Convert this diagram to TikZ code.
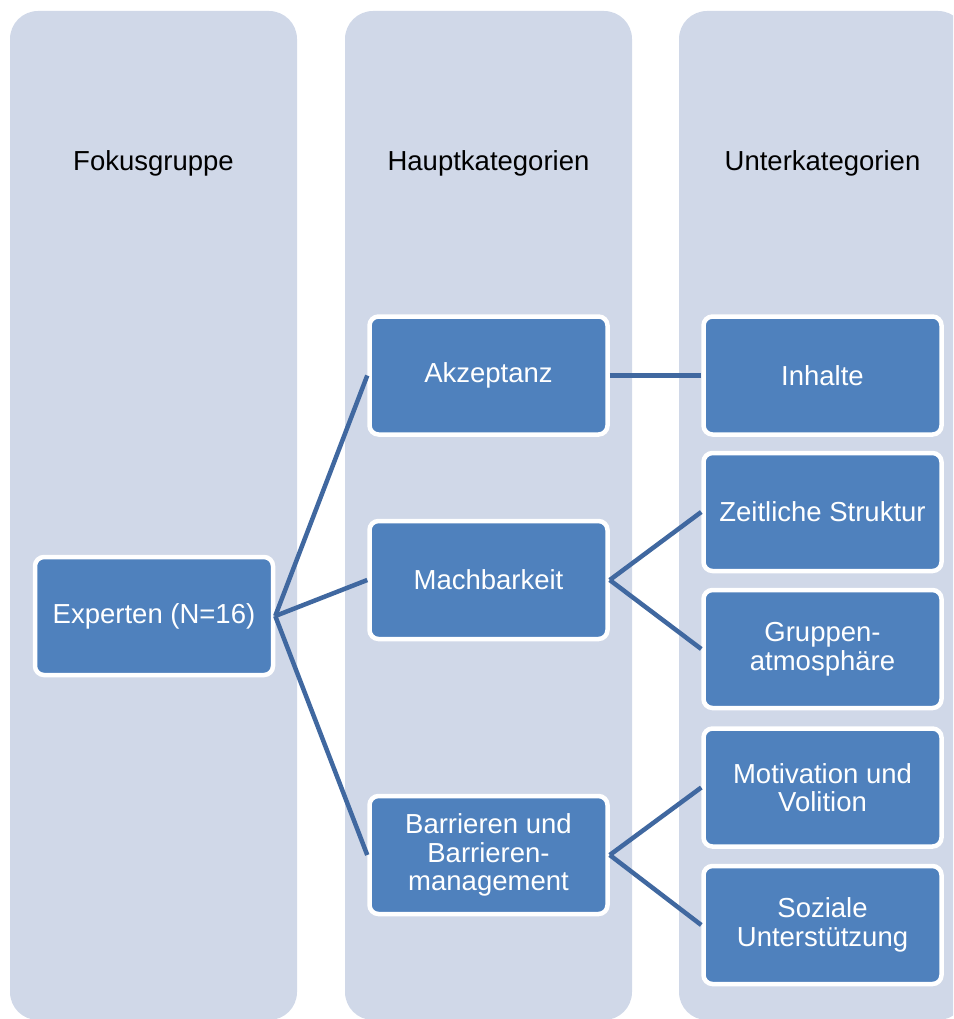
\documentclass[tikz,border=0pt]{standalone}
\usepackage{fontspec}
\setmainfont{Liberation Sans}
\definecolor{colfill}{RGB}{208,216,232}
\definecolor{boxblue}{RGB}{79,129,189}
\definecolor{linkblue}{RGB}{64,104,160}
\begin{document}
\begin{tikzpicture}[x=1pt,y=-1pt,
  column/.style={fill=colfill,rounded corners=28pt},
  header/.style={font=\fontsize{27.5}{29}\selectfont,text=black},
  catbox/.style={rectangle,rounded corners=9pt,fill=boxblue,draw=white,
    line width=4.5pt,minimum width=238pt,minimum height=118pt,inner sep=0pt,
    text=white,align=center,font=\fontsize{27.5}{28.5}\selectfont},
  link/.style={draw=linkblue,line width=4.5pt}]
\useasboundingbox (0,0) rectangle (953,1019);
\clip (0,0) rectangle (953,1019);
% background columns
\fill[column] (10,11) rectangle (297,1020);
\fill[column] (345,11) rectangle (632,1020);
\fill[column] (679,11) rectangle (966,1020);
% column headings
\node[header] (h1) at (153.5,163) {Fokusgruppe};
\node[header] (h2) at (488.5,163) {Hauptkategorien};
\node[header] (h3) at (822.5,163) {Unterkategorien};
% focus group
\node[catbox] (exp) at (154,616) {Experten (N=16)};
% main categories
\node[catbox] (akz) at (488.5,375.5) {Akzeptanz};
\node[catbox] (mach) at (488.5,580) {Machbarkeit};
\node[catbox] (barr) at (488.5,855) {Barrieren und\\Barrieren-\\management};
% subcategories
\node[catbox] (inh) at (822.5,375.5) {Inhalte};
\node[catbox] (zeit) at (822.5,512) {Zeitliche Struktur};
\node[catbox] (grup) at (822.5,649) {Gruppen-\\atmosphäre};
\node[catbox] (moti) at (822.5,787.5) {Motivation und\\Volition};
\node[catbox] (soz) at (822.5,925) {Soziale\\Unterstützung};
% connectors
\draw[link] (exp.east) -- (akz.west);
\draw[link] (exp.east) -- (mach.west);
\draw[link] (exp.east) -- (barr.west);
\draw[link] (akz.east) -- (inh.west);
\draw[link] (mach.east) -- (zeit.west);
\draw[link] (mach.east) -- (grup.west);
\draw[link] (barr.east) -- (moti.west);
\draw[link] (barr.east) -- (soz.west);
\end{tikzpicture}
\end{document}
